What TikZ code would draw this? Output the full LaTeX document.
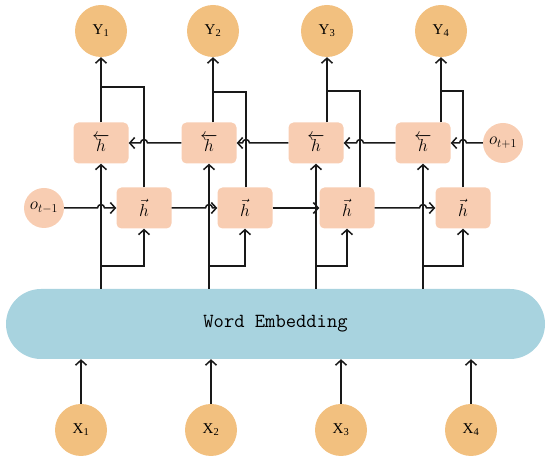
\documentclass[tikz,border=0pt]{standalone}
\usepackage{fontspec}
\setmainfont{Liberation Serif}
\usetikzlibrary{arrows.meta,calc}
\definecolor{yorange}{HTML}{F2C07F}
\definecolor{hsalmon}{HTML}{F8CDB2}
\definecolor{embblue}{HTML}{A8D3DF}
\begin{document}
\begin{tikzpicture}[x=1pt,y=-1pt,
  outc/.style={circle, fill=yorange, minimum size=52pt, inner sep=0pt, font=\fontsize{15}{15}\selectfont},
  oc/.style={circle, fill=hsalmon, minimum size=40pt, inner sep=0pt, font=\fontsize{17}{17}\selectfont},
  hbox/.style={rectangle, rounded corners=5pt, fill=hsalmon, minimum width=55pt, minimum height=41pt, inner sep=0pt, font=\fontsize{16}{16}\selectfont},
  emb/.style={rectangle, rounded corners=35pt, fill=embblue, minimum width=539pt, minimum height=70pt, inner sep=0pt},
  conn/.style={draw=black!90, line width=1.5pt},
  >={Straight Barb[length=5pt,width=11pt]}]
\useasboundingbox (0,0) rectangle (550,462);
% outputs
\node[outc] (Y1) at (101,31) {Y\textsubscript{1}};
\node[outc] (Y2) at (213,31) {Y\textsubscript{2}};
\node[outc] (Y3) at (327,31) {Y\textsubscript{3}};
\node[outc] (Y4) at (441,31) {Y\textsubscript{4}};
% backward boxes
\node[hbox] (B1) at (101,143) {$\overleftarrow{h}$};
\node[hbox] (B2) at (209,143) {$\overleftarrow{h}$};
\node[hbox] (B3) at (316,143) {$\overleftarrow{h}$};
\node[hbox] (B4) at (423,143) {$\overleftarrow{h}$};
% forward boxes
\node[hbox] (F1) at (144,208) {$\vec{h}$};
\node[hbox] (F2) at (245,208) {$\vec{h}$};
\node[hbox] (F3) at (347,208) {$\vec{h}$};
\node[hbox] (F4) at (463,208) {$\vec{h}$};
% states
\node[oc] (O1) at (44,208) {$o_{t-1}$};
\node[oc] (O2) at (503,143) {$o_{t+1}$};
% embedding
\node[emb] (E) at (275.5,324) {\fontsize{20}{20}\selectfont\ttfamily Word Embedding};
% inputs
\node[outc] (X1) at (81,430) {X\textsubscript{1}};
\node[outc] (X2) at (211,430) {X\textsubscript{2}};
\node[outc] (X3) at (341,430) {X\textsubscript{3}};
\node[outc] (X4) at (471,430) {X\textsubscript{4}};
% forward output tops
\coordinate (F1o) at (F1.north);
\coordinate (F2o) at ($(F2.north)+(1,0)$);
\coordinate (F3o) at ($(F3.north)+(13,0)$);
\coordinate (F4o) at (F4.north);
% join points
\coordinate (J1) at (Y1 |- 0,87);
\coordinate (J2) at (Y2 |- 0,92);
\coordinate (J3) at (Y3 |- 0,91);
\coordinate (J4) at (Y4 |- 0,91);
% X to embedding
\foreach \i in {1,...,4}{
  \draw[conn,->] (X\i.north) -- (X\i.north |- E.south);
}
% embedding to boxes
\foreach \i in {1,...,4}{
  \draw[conn,->] (B\i |- E.north) -- (B\i.south);
  \draw[conn,->] ($(B\i |- E.north)+(0,-23)$) -| (F\i.south);
  \draw[conn,->] (Y\i |- B\i.north) -- (Y\i.south);
  \draw[conn] (F\i o) |- (J\i);
}
% forward chain
\draw[conn,->] (O1.east) -- ($(B1 |- O1)+(-3.5pt,0)$) arc[start angle=180,end angle=0,radius=3.5pt] -- (F1.west);
\draw[conn,->] (F1.east) -- ($(B2 |- F1)+(-3.5pt,0)$) arc[start angle=180,end angle=0,radius=3.5pt] -- (F2.west);
\draw[conn,->] (F2.east) -- (F3.west);
\draw[conn,->] (F3.east) -- ($(B4 |- F3)+(-3.5pt,0)$) arc[start angle=180,end angle=0,radius=3.5pt] -- (F4.west);
% backward chain
\draw[conn,->] (O2.west) -- ($(F4o |- O2)+(3.5pt,0)$) arc[start angle=0,end angle=180,radius=3.5pt] -- (B4.east);
\draw[conn,->] (B4.west) -- ($(F3o |- B4)+(3.5pt,0)$) arc[start angle=0,end angle=180,radius=3.5pt] -- (B3.east);
\draw[conn,->] (B3.west) -- ($(F2o |- B3)+(3.5pt,0)$) arc[start angle=0,end angle=180,radius=3.5pt] -- (B2.east);
\draw[conn,->] (B2.west) -- ($(F1o |- B2)+(3.5pt,0)$) arc[start angle=0,end angle=180,radius=3.5pt] -- (B1.east);
\end{tikzpicture}
\end{document}
